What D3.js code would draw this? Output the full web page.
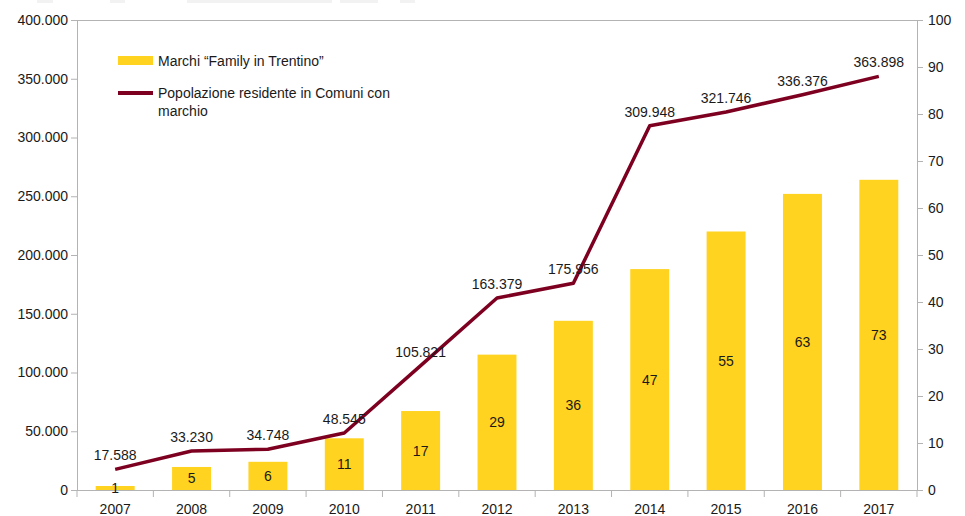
<!DOCTYPE html>
<html>
<head>
<meta charset="utf-8">
<script src="https://cdn.jsdelivr.net/npm/d3@7"></script>
<style>
  body { margin: 0; background: #fff; }
  text { font-family: "Liberation Sans", Arial, sans-serif; fill: #1a1a1a; }
</style>
</head>
<body>
<div id="chart"></div>
<script>
// data
const years = ['2007', '2008', '2009', '2010', '2011', '2012', '2013', '2014', '2015', '2016', '2017'];
// bar heights as drawn (right axis) and the numbers written on them
const marchiDrawn = [0.85, 4.9, 6, 11, 16.8, 28.8, 36, 47, 55, 63, 66];
const marchiLabels = ['1', '5', '6', '11', '17', '29', '36', '47', '55', '63', '73'];
// population line as drawn (left axis) and its labels
const popDrawn = [17588, 33230, 34748, 48545, 105821, 163379, 175956, 309948, 321746, 336376, 352000];
const popLabels = ['17.588', '33.230', '34.748', '48.545', '105.821', '163.379', '175.956', '309.948', '321.746', '336.376', '363.898'];
const leftTicks = [0, 50000, 100000, 150000, 200000, 250000, 300000, 350000, 400000];
const rightTicks = [0, 10, 20, 30, 40, 50, 60, 70, 80, 90, 100];

const width = 965, height = 516;
const margin = {top: 20, right: 48, bottom: 26, left: 77};
const innerW = width - margin.left - margin.right;
const innerH = height - margin.top - margin.bottom;

const yellow = '#ffd320', wine = '#7e0021', axisCol = '#b3b3b3';
const it = d3.formatLocale({decimal: ',', thousands: '.', grouping: [3], currency: ['', '€']});
const fmt = it.format(',');

const svg = d3.select('#chart').append('svg')
  .attr('width', width)
  .attr('height', height);

// faint strip at the very top (leftover from the source image)
[[37, 16], [110, 15], [187, 145], [340, 38], [400, 15]].forEach(([x, w]) => {
  svg.append('rect').attr('x', x).attr('y', 0).attr('width', w).attr('height', 3).attr('fill', '#f2f2f2');
});

const g = svg.append('g').attr('transform', `translate(${margin.left},${margin.top})`);

const x = d3.scaleBand().domain(years).range([0, innerW]).paddingInner(0.49).paddingOuter(0.245);
const xb = d3.scaleBand().domain(years).range([0, innerW]);
const yL = d3.scaleLinear().domain([0, 400000]).range([innerH, 0]);
const yR = d3.scaleLinear().domain([0, 100]).range([innerH, 0]);

// top border
g.append('line').attr('x1', 0).attr('x2', innerW).attr('y1', 0.5).attr('y2', 0.5)
  .attr('stroke', axisCol);

// bars
g.selectAll('.bar').data(years).enter().append('rect')
  .attr('class', 'bar')
  .attr('x', d => x(d))
  .attr('width', x.bandwidth())
  .attr('y', (d, i) => yR(marchiDrawn[i]))
  .attr('height', (d, i) => innerH - yR(marchiDrawn[i]))
  .attr('fill', yellow);

// axes
const styleAxis = sel => {
  sel.select('.domain').attr('stroke', axisCol);
  sel.selectAll('.tick line').attr('stroke', axisCol);
  sel.selectAll('.tick text').attr('font-size', 14).attr('fill', '#1a1a1a')
    .attr('font-family', '"Liberation Sans", Arial, sans-serif');
};

g.append('g')
  .call(d3.axisLeft(yL).tickValues(leftTicks).tickFormat(fmt).tickSizeInner(6).tickSizeOuter(0).tickPadding(3))
  .call(styleAxis);

g.append('g').attr('transform', `translate(${innerW},0)`)
  .call(d3.axisRight(yR).tickValues(rightTicks).tickSizeInner(6).tickSizeOuter(0).tickPadding(5))
  .call(styleAxis);

const xAxis = g.append('g').attr('transform', `translate(0,${innerH})`)
  .call(d3.axisBottom(xb).tickSize(0).tickPadding(14))
  .call(styleAxis);
xAxis.select('.domain').attr('d', `M0,0.5H${innerW}`);
// category separators
g.selectAll('.sep').data(d3.range(years.length + 1)).enter().append('line')
  .attr('class', 'sep')
  .attr('x1', i => i * xb.step()).attr('x2', i => i * xb.step())
  .attr('y1', innerH).attr('y2', innerH + 7)
  .attr('stroke', axisCol);

// line
const line = d3.line()
  .x((d, i) => xb(years[i]) + xb.bandwidth() / 2)
  .y(d => yL(d));

g.append('path').datum(popDrawn)
  .attr('d', line)
  .attr('fill', 'none')
  .attr('stroke', wine)
  .attr('stroke-width', 3.5)
  .attr('stroke-linejoin', 'round');

// bar labels
g.selectAll('.barLabel').data(years).enter().append('text')
  .attr('class', 'barLabel')
  .attr('x', d => x(d) + x.bandwidth() / 2)
  .attr('y', (d, i) => (yR(marchiDrawn[i]) + innerH) / 2 + 5)
  .attr('text-anchor', 'middle')
  .attr('font-size', 14)
  .text((d, i) => marchiLabels[i]);

// line labels
g.selectAll('.popLabel').data(years).enter().append('text')
  .attr('class', 'popLabel')
  .attr('x', d => xb(d) + xb.bandwidth() / 2)
  .attr('y', (d, i) => yL(popDrawn[i]) - 9)
  .attr('text-anchor', 'middle')
  .attr('font-size', 14)
  .text((d, i) => popLabels[i]);

// legend
const legend = svg.append('g').attr('transform', 'translate(118,56)');
legend.append('rect').attr('width', 35).attr('height', 9).attr('fill', yellow);
legend.append('text').attr('x', 40).attr('y', 10).attr('font-size', 14).text('Marchi “Family in Trentino”');
legend.append('line').attr('x1', 0).attr('x2', 35).attr('y1', 37).attr('y2', 37)
  .attr('stroke', wine).attr('stroke-width', 4);
legend.append('text').attr('x', 40).attr('y', 42).attr('font-size', 14).text('Popolazione residente in Comuni con');
legend.append('text').attr('x', 40).attr('y', 60).attr('font-size', 14).text('marchio');
</script>
</body>
</html>
